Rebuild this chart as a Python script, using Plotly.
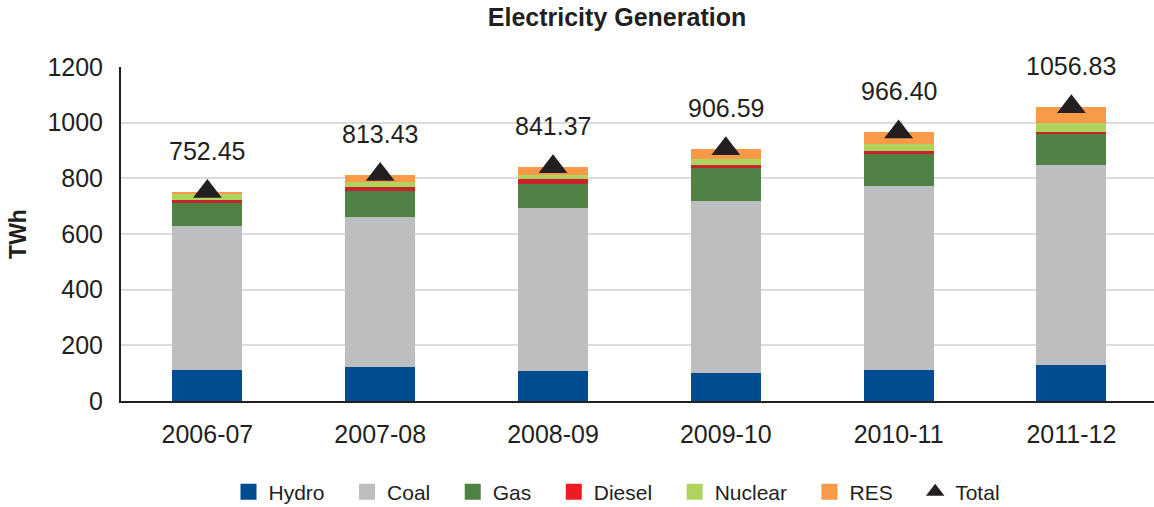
import plotly.graph_objects as go

# Electricity generation by source, TWh
years = ["2006-07", "2007-08", "2008-09", "2009-10", "2010-11", "2011-12"]
hydro = [113, 121, 109, 102, 113, 131]
coal = [516, 540, 584, 616, 659, 716]
gas = [82, 93, 87, 119, 114, 114]
diesel = [11, 14, 17, 11, 11, 7]
nuclear = [21, 19, 14, 20, 25, 32]
res = [9.45, 26.43, 30.37, 38.59, 44.40, 56.83]
total = [752.45, 813.43, 841.37, 906.59, 966.40, 1056.83]

series = [
    ("Hydro", hydro, "#004C91", "#004C91"),
    ("Coal", coal, "#BDBEC0", "#BDBEC0"),
    ("Gas", gas, "#508244", "#508244"),
    ("Diesel", diesel, "#C8232B", "#ED1C24"),
    ("Nuclear", nuclear, "#AED35F", "#AED35F"),
    ("RES", res, "#F89A48", "#F89A48"),
]

FONT = "Liberation Sans, Arial, Helvetica, sans-serif"
INK = "#231F20"
PAD = "\u00a0" * 3

fig = go.Figure()

for name, vals, bar_col, key_col in series:
    fig.add_trace(go.Bar(
        x=years, y=vals, name=name, marker=dict(color=bar_col, line=dict(width=0)),
        showlegend=False,
    ))

fig.add_trace(go.Scatter(
    x=years, y=total, mode="markers", name="Total",
    marker=dict(symbol="triangle-up", size=25, color=INK),
    showlegend=False,
))

# legend keys with larger swatches
for name, vals, bar_col, key_col in series:
    fig.add_trace(go.Scatter(
        x=[None], y=[None], mode="markers", name=name + PAD,
        marker=dict(symbol="square", size=16, color=key_col),
    ))
fig.add_trace(go.Scatter(
    x=[None], y=[None], mode="markers", name="Total",
    marker=dict(symbol="triangle-up", size=16, color=INK),
))

for yr, t in zip(years, total):
    fig.add_annotation(
        x=yr, y=t, text=f"{t:.2f}", showarrow=False, yshift=41,
        font=dict(family=FONT, size=25, color=INK),
    )

fig.update_layout(
    barmode="stack",
    bargap=0.595,
    width=1154, height=507,
    margin=dict(l=121, r=0, t=67, b=106),
    paper_bgcolor="white", plot_bgcolor="white",
    font=dict(family=FONT, color=INK),
    title=dict(
        text="<b>Electricity Generation</b>",
        font=dict(family=FONT, size=25, color=INK),
        x=617 / 1154, xref="container", xanchor="center",
        y=1 - 17 / 507, yref="container", yanchor="middle",
    ),
    legend=dict(
        orientation="h",
        x=617 / 1154, xref="container", xanchor="center",
        y=1 - 492 / 507, yref="container", yanchor="middle",
        font=dict(family=FONT, size=21, color=INK),
        traceorder="normal",
        bgcolor="rgba(0,0,0,0)",
    ),
    xaxis=dict(
        type="category",
        categoryorder="array", categoryarray=years,
        range=[-0.5, 5.478],
        showline=True, linecolor=INK, linewidth=2,
        ticks="", showgrid=False,
        tickfont=dict(family=FONT, size=25, color=INK),
        ticklabelstandoff=10,
    ),
    yaxis=dict(
        range=[0, 1200], dtick=200,
        showline=True, linecolor=INK, linewidth=2,
        showgrid=True, gridcolor="#DCDCDC", gridwidth=2,
        zeroline=False, ticks="",
        tickfont=dict(family=FONT, size=25, color=INK),
        ticklabelstandoff=11,
        title=dict(text="<b>TWh</b>", font=dict(family=FONT, size=23, color=INK), standoff=14),
    ),
)

fig.write_html("out.html")
